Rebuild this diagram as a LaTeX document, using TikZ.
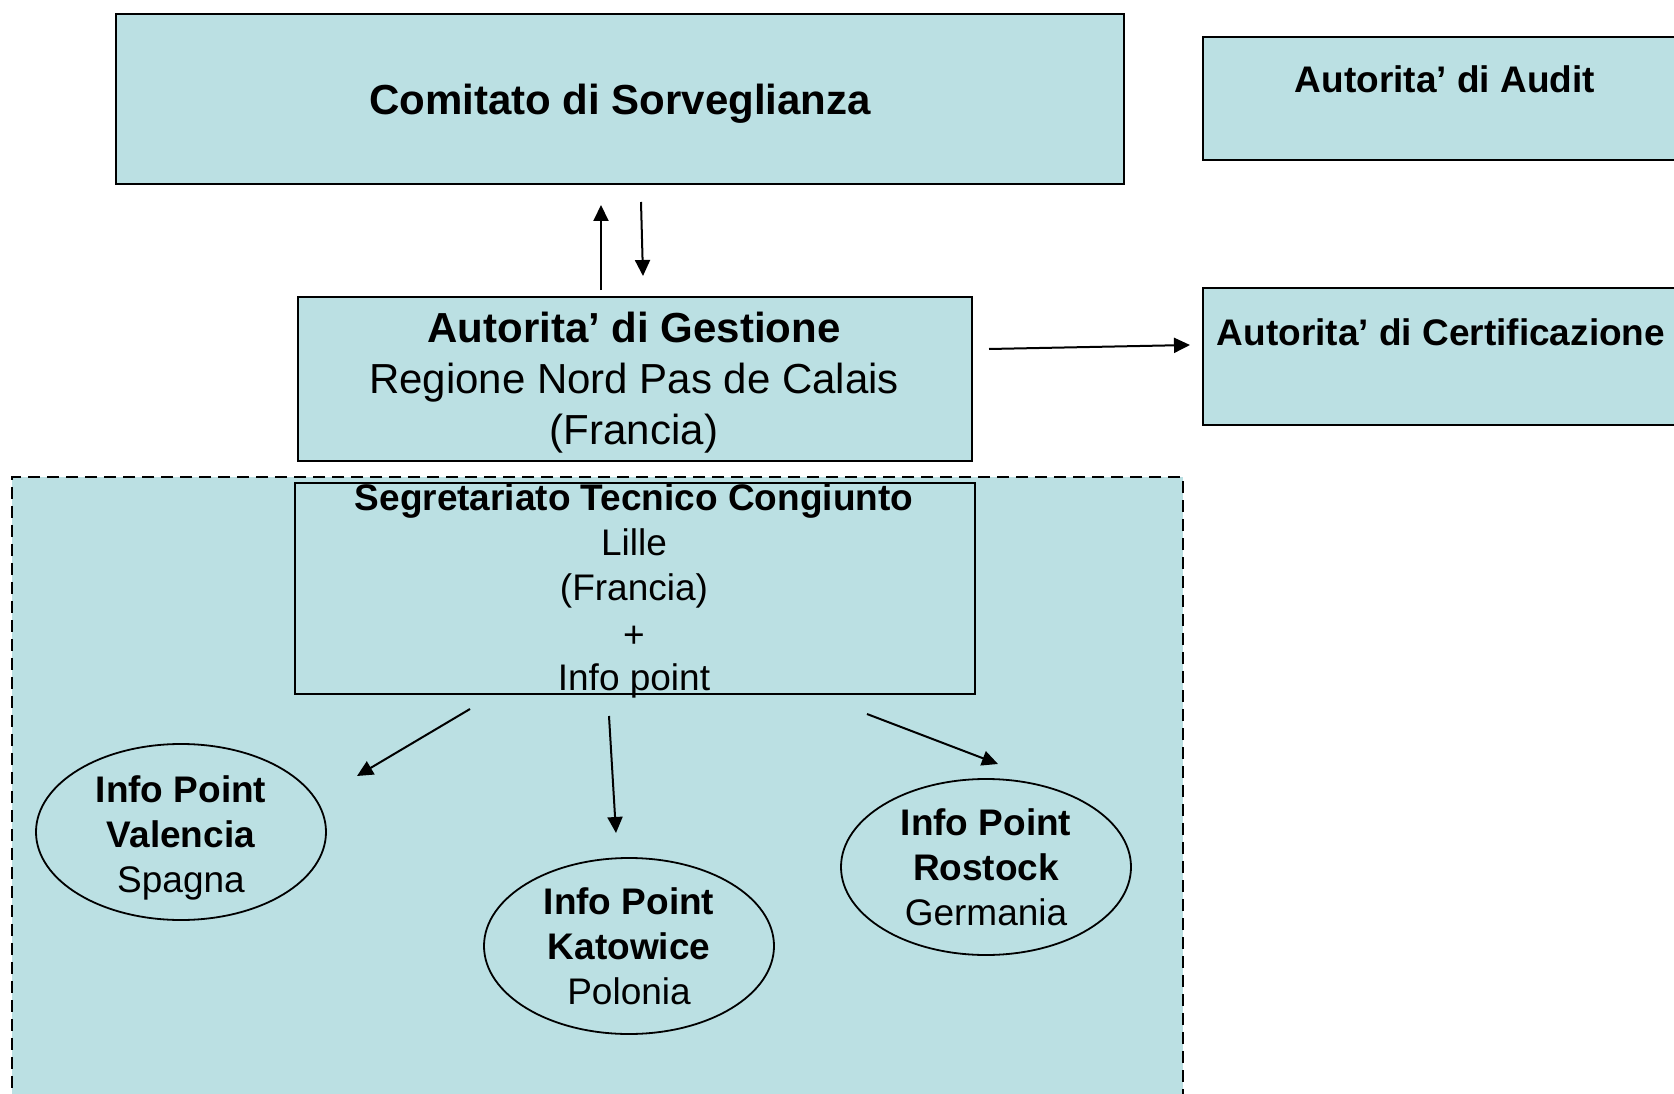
\documentclass[tikz,border=0pt]{standalone}
\usepackage{fontspec}
\setmainfont{Liberation Sans}
\usetikzlibrary{shapes.geometric,arrows.meta}
\definecolor{paleblue}{RGB}{187,224,227}
\begin{document}
\begin{tikzpicture}[x=1pt,y=-1pt,
  box/.style={draw, line width=2pt, fill=paleblue, rectangle, inner sep=0pt, anchor=north west},
  bigtext/.style={font=\fontsize{42}{51}\selectfont, align=center},
  smalltext/.style={font=\fontsize{37}{45}\selectfont, align=center, inner sep=0pt},
  infopoint/.style={draw, line width=1.8pt, fill=paleblue, ellipse, minimum width=290pt, minimum height=176pt, inner sep=0pt, smalltext},
  arr/.style={line width=2pt, -{Triangle[width=15pt,length=16pt]}}]

\useasboundingbox (0,0) rectangle (1674,1094);
\clip (0,0) rectangle (1674,1094);

\node[box, minimum width=1008pt, minimum height=170pt, bigtext, text depth=0pt] (cds) at (115,13) {\bfseries Comitato di Sorveglianza};
\node[box, minimum width=486pt, minimum height=123pt] (aud) at (1202,36) {};
\node[smalltext, anchor=base] (audtext) at (1445,93) {\bfseries Autorita’ di Audit};
\node[box, minimum width=486pt, minimum height=137pt] (cert) at (1202,287) {};
\node[smalltext, anchor=base] (certtext) at (1441,345) {\bfseries Autorita’ di Certificazione};
\node[box, minimum width=674pt, minimum height=164pt] (gest) at (297,296) {};
\node[bigtext, inner sep=0pt] (gesttext) at (634,383) {\textbf{Autorita’ di Gestione}\\Regione Nord Pas de Calais\\(Francia)};

\node[box, dash pattern=on 12pt off 7pt, line width=2.2pt, minimum width=1171pt, minimum height=650pt] (stcarea) at (11,476) {};
\node[box, minimum width=680pt, minimum height=211pt] (stc) at (294,482) {};
\node[smalltext, anchor=north] (stctext) at (634,483) {\textbf{Segretariato Tecnico Congiunto}\\Lille\\(Francia)\\[2pt]+\\[-2pt]Info point};

\node[infopoint] (val) at (181,832) {};
\node[smalltext] (valtext) at (181,838) {\textbf{Info Point}\\\textbf{Valencia}\\Spagna};
\node[infopoint] (kat) at (629,946) {\textbf{Info Point}\\\textbf{Katowice}\\Polonia};
\node[infopoint] (ros) at (986,867) {\textbf{Info Point}\\\textbf{Rostock}\\Germania};

\coordinate (up1) at (601,290);
\coordinate (up2) at (601,205);
\coordinate (dn1) at (641,202);
\coordinate (dn2) at (643,276);
\coordinate (rt1) at (989,349);
\coordinate (rt2) at (1190,345);
\coordinate (v1) at (470,709);
\coordinate (v2) at (357,776);
\coordinate (k1) at (609,716);
\coordinate (k2) at (616,833);
\coordinate (r1) at (867,714);
\coordinate (r2) at (998,764);
\draw[arr] (up1) -- (up2);
\draw[arr] (dn1) -- (dn2);
\draw[arr] (rt1) -- (rt2);
\draw[arr] (v1) -- (v2);
\draw[arr] (k1) -- (k2);
\draw[arr] (r1) -- (r2);
\end{tikzpicture}
\end{document}
